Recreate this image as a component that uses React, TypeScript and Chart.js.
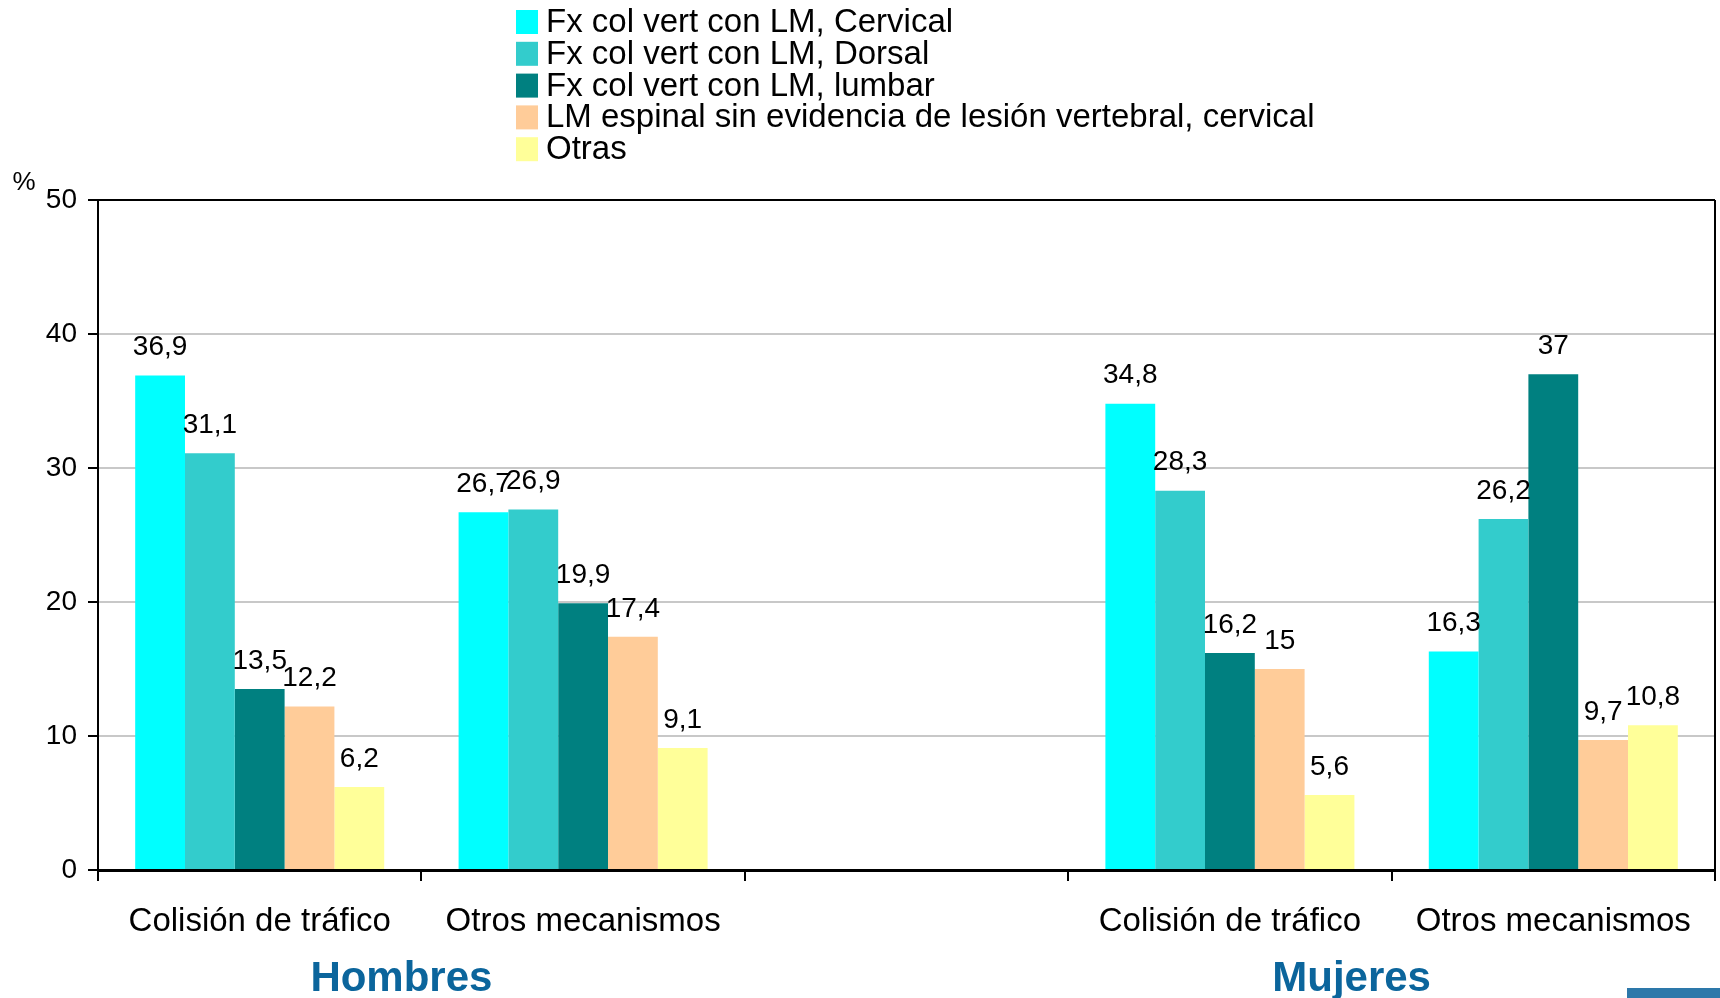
import React, { useEffect, useRef } from "react";
import { Chart, registerables } from "chart.js";

Chart.register(...registerables);

// Categories: two groups (Hombres / Mujeres) separated by an empty slot
const categories = ["Colisión de tráfico", "Otros mecanismos", "", "Colisión de tráfico", "Otros mecanismos"];

const seriesNames = [
  "Fx col vert con LM, Cervical",
  "Fx col vert con LM, Dorsal",
  "Fx col vert con LM, lumbar",
  "LM espinal sin evidencia de lesión vertebral, cervical",
  "Otras",
];

const cervical = [36.9, 26.7, null, 34.8, 16.3];
const dorsal = [31.1, 26.9, null, 28.3, 26.2];
const lumbar = [13.5, 19.9, null, 16.2, 37];
const sinLesion = [12.2, 17.4, null, 15, 9.7];
const otras = [6.2, 9.1, null, 5.6, 10.8];

const seriesColors = ["#00FFFF", "#33CCCC", "#008080", "#FFCC99", "#FFFF99"];

const groupLabels = ["Hombres", "Mujeres"];
const yTicks = [0, 10, 20, 30, 40, 50];

const FONT = "'Liberation Sans', Arial, sans-serif";

const fmt = (v: number) => String(v).replace(".", ",");

// Draws value labels above each bar
const valueLabels = {
  id: "valueLabels",
  afterDatasetsDraw(chart: any) {
    const ctx = chart.ctx;
    ctx.save();
    ctx.font = `28px ${FONT}`;
    ctx.fillStyle = "#000";
    ctx.textAlign = "center";
    ctx.textBaseline = "middle";
    chart.data.datasets.forEach((ds: any, di: number) => {
      const meta = chart.getDatasetMeta(di);
      meta.data.forEach((el: any, i: number) => {
        const v = ds.data[i];
        if (v === null || v === undefined) return;
        ctx.fillText(fmt(v), el.x, el.y - 28);
      });
    });
    ctx.restore();
  },
};

// Legend block, frame lines, unit label and group titles
const decorations = {
  id: "decorations",
  afterDraw(chart: any) {
    const ctx = chart.ctx;
    const area = chart.chartArea;
    ctx.save();

    // right frame line
    ctx.strokeStyle = "#000";
    ctx.lineWidth = 2;
    ctx.beginPath();
    ctx.moveTo(area.right, area.top);
    ctx.lineTo(area.right, area.bottom);
    ctx.stroke();

    // unit label
    ctx.font = `26px ${FONT}`;
    ctx.fillStyle = "#000";
    ctx.textAlign = "center";
    ctx.textBaseline = "middle";
    ctx.fillText("%", 24, 183);

    // legend
    const lx = 516;
    const rowH = 31.8;
    const y0 = 22;
    ctx.font = `33px ${FONT}`;
    ctx.textAlign = "left";
    seriesNames.forEach((name, i) => {
      const cy = y0 + i * rowH;
      ctx.fillStyle = seriesColors[i];
      ctx.fillRect(lx, cy - 12, 22, 24);
      ctx.fillStyle = "#000";
      ctx.fillText(name, lx + 30, cy + 1);
    });

    // group titles
    const x = chart.scales.x;
    ctx.font = `bold 42px ${FONT}`;
    ctx.fillStyle = "#0B659C";
    ctx.textAlign = "center";
    ctx.fillText(groupLabels[0], x.getPixelForValue(0.5) - 20, 979);
    ctx.fillText(groupLabels[1], x.getPixelForValue(3.5) - 40, 979);
    ctx.restore();
  },
};

export default function App() {
  const ref = useRef<HTMLCanvasElement>(null);

  useEffect(() => {
    if (!ref.current) return;
    const seriesData = [cervical, dorsal, lumbar, sinLesion, otras];
    const chart = new Chart(ref.current, {
      type: "bar",
      data: {
        labels: categories,
        datasets: seriesNames.map((name, i) => ({
          label: name,
          data: seriesData[i],
          backgroundColor: seriesColors[i],
          borderWidth: 0,
          categoryPercentage: 0.77,
          barPercentage: 1,
        })),
      },
      plugins: [valueLabels, decorations],
      options: {
        responsive: false,
        animation: false,
        layout: { padding: { top: 200, right: 5, left: 0, bottom: 0 } },
        plugins: {
          legend: { display: false },
          tooltip: { enabled: false },
        },
        scales: {
          x: {
            afterFit: (s: any) => {
              s.height = 128;
            },
            grid: {
              offset: true,
              drawOnChartArea: false,
              drawTicks: true,
              tickLength: 11,
              tickColor: "#000",
              lineWidth: 2,
            },
            border: { color: "#000", width: 3 },
            ticks: {
              font: { family: FONT, size: 33 },
              color: "#000",
              padding: 21,
              maxRotation: 0,
              autoSkip: false,
            },
          },
          y: {
            min: 0,
            max: 50,
            afterFit: (s: any) => {
              s.width = 98;
            },
            afterBuildTicks: (s: any) => {
              s.ticks = yTicks.map((v) => ({ value: v }));
            },
            grid: {
              color: (c: any) => (c.tick && c.tick.value === 50 ? "#000" : "#C8C8C8"),
              lineWidth: 2,
              tickLength: 10,
              tickColor: "#000",
            },
            border: { color: "#000", width: 2 },
            ticks: {
              font: { family: FONT, size: 28 },
              color: "#000",
              padding: 11,
            },
          },
        },
      },
    });
    return () => chart.destroy();
  }, []);

  return (
    <div style={{ position: "absolute", left: 0, top: 0, width: 1720, height: 998, background: "#fff", overflow: "hidden" }}>
      <canvas ref={ref} width={1720} height={998} style={{ width: 1720, height: 998, display: "block" }} />
      <div style={{ position: "absolute", left: 1627, top: 988, width: 93, height: 10, background: "#2D78AA" }} />
    </div>
  );
}
